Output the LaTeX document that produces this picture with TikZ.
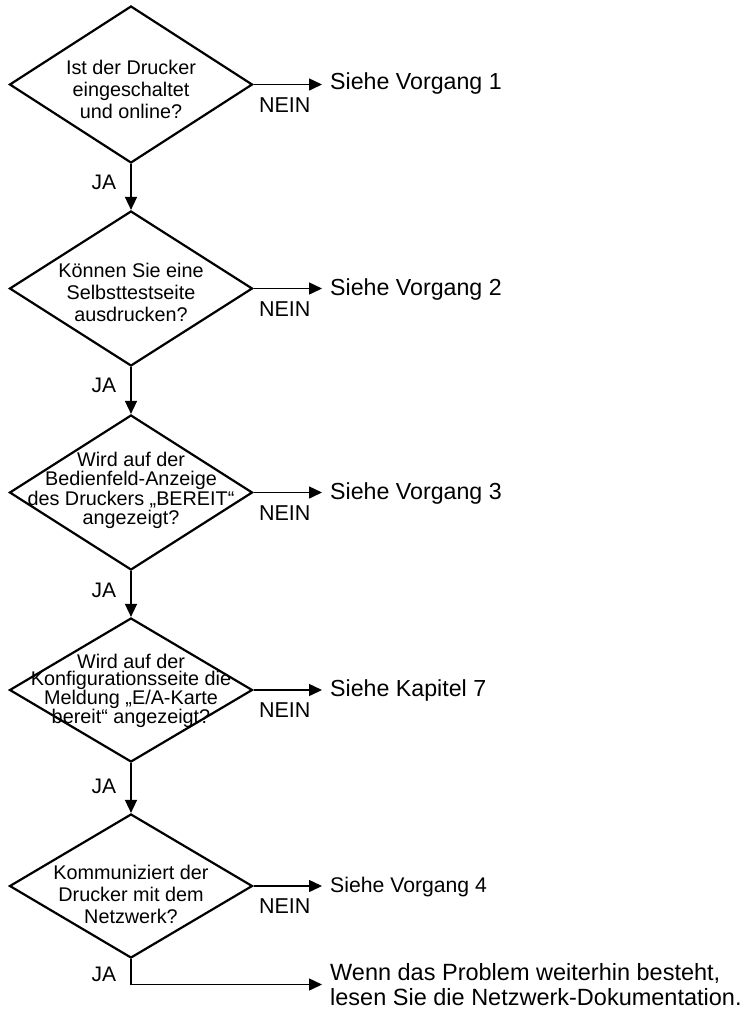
\documentclass[tikz,border=0pt]{standalone}
\usepackage{fontspec}
\setmainfont{Liberation Sans}
\usetikzlibrary{shapes.geometric,arrows.meta}

\begin{document}
\begin{tikzpicture}
  [x=1pt, y=-1pt,
   dia/.style={diamond, draw, line width=2.2pt, inner sep=0pt, minimum width=243pt},
   qtext/.style={align=center, inner sep=0pt, font=\fontsize{19.8pt}{22pt}\selectfont},
   seetext/.style={anchor=west, inner xsep=8pt, inner ysep=0pt, font=\fontsize{23.2pt}{25pt}\selectfont},
   ja/.style={left, inner sep=0pt, xshift=-14pt, font=\fontsize{21pt}{24pt}\selectfont},
   nein/.style={below, inner sep=0pt, yshift=-12pt, xshift=-3pt, font=\fontsize{21.5pt}{24pt}\selectfont},
   arr/.style={line width=1.5pt, -{Triangle[length=13pt,width=12pt]}}]
  \useasboundingbox (0,0) rectangle (754,1010);

  % questions
  \node[dia, minimum height=157pt, label={[qtext, yshift=-5pt]center:{Ist der Drucker\\eingeschaltet\\und online?}}] (d1) at (131,84.5) {};
  \node[dia, minimum height=155pt, label={[qtext, yshift=-4pt]center:{Können Sie eine\\Selbsttestseite\\ausdrucken?}}] (d2) at (131,288.5) {};
  \node[dia, minimum height=155pt, label={[qtext, yshift=2pt, font=\fontsize{19.8pt}{19.5pt}\selectfont]center:{Wird auf der\\Bedienfeld-Anzeige\\des Druckers „BEREIT“\\angezeigt?}}] (d3) at (131,492.5) {};
  \node[dia, minimum height=144pt, label={[qtext, yshift=-1pt, font=\fontsize{19.8pt}{16.8pt}\selectfont]center:{Wird auf der\\Konfigurationsseite die\\Meldung „E/A-Karte\\bereit“ angezeigt?}}] (d4) at (131,690) {};
  \node[dia, minimum height=144pt, label={[qtext, yshift=-8pt]center:{Kommuniziert der\\Drucker mit dem\\Netzwerk?}}] (d5) at (131,886) {};

  % answers
  \node[seetext] (s1) at (322,83) {Siehe Vorgang 1};
  \node[seetext] (s2) at (322,289) {Siehe Vorgang 2};
  \node[seetext] (s3) at (322,493) {Siehe Vorgang 3};
  \node[seetext] (s4) at (322,690) {Siehe Kapitel 7};
  \node[seetext, font=\fontsize{21.2pt}{24pt}\selectfont] (s5) at (322,887) {Siehe Vorgang 4};
  \node[seetext, align=left, font=\fontsize{23.5pt}{25pt}\selectfont] (fin) at (322,984.5)
    {Wenn das Problem weiterhin besteht,\\lesen Sie die Netzwerk-Dokumentation.};

  % JA
  \draw[arr] (d1.south) -- node[ja, pos=0.4]{JA} (d2.north);
  \draw[arr] (d2.south) -- node[ja, pos=0.4]{JA} (d3.north);
  \draw[arr] (d3.south) -- node[ja, pos=0.42]{JA} (d4.north);
  \draw[arr] (d4.south) -- node[ja, pos=0.47]{JA} (d5.north);
  \draw[arr] (d5.south) |- node[ja, pos=0.3]{JA} (fin.west);

  % NEIN
  \draw[arr] (d1.east) -- node[nein]{NEIN} (d1.east -| s1.west);
  \draw[arr] (d2.east) -- node[nein]{NEIN} (d2.east -| s2.west);
  \draw[arr] (d3.east) -- node[nein]{NEIN} (d3.east -| s3.west);
  \draw[arr] (d4.east) -- node[nein]{NEIN} (d4.east -| s4.west);
  \draw[arr] (d5.east) -- node[nein]{NEIN} (d5.east -| s5.west);
\end{tikzpicture}
\end{document}
